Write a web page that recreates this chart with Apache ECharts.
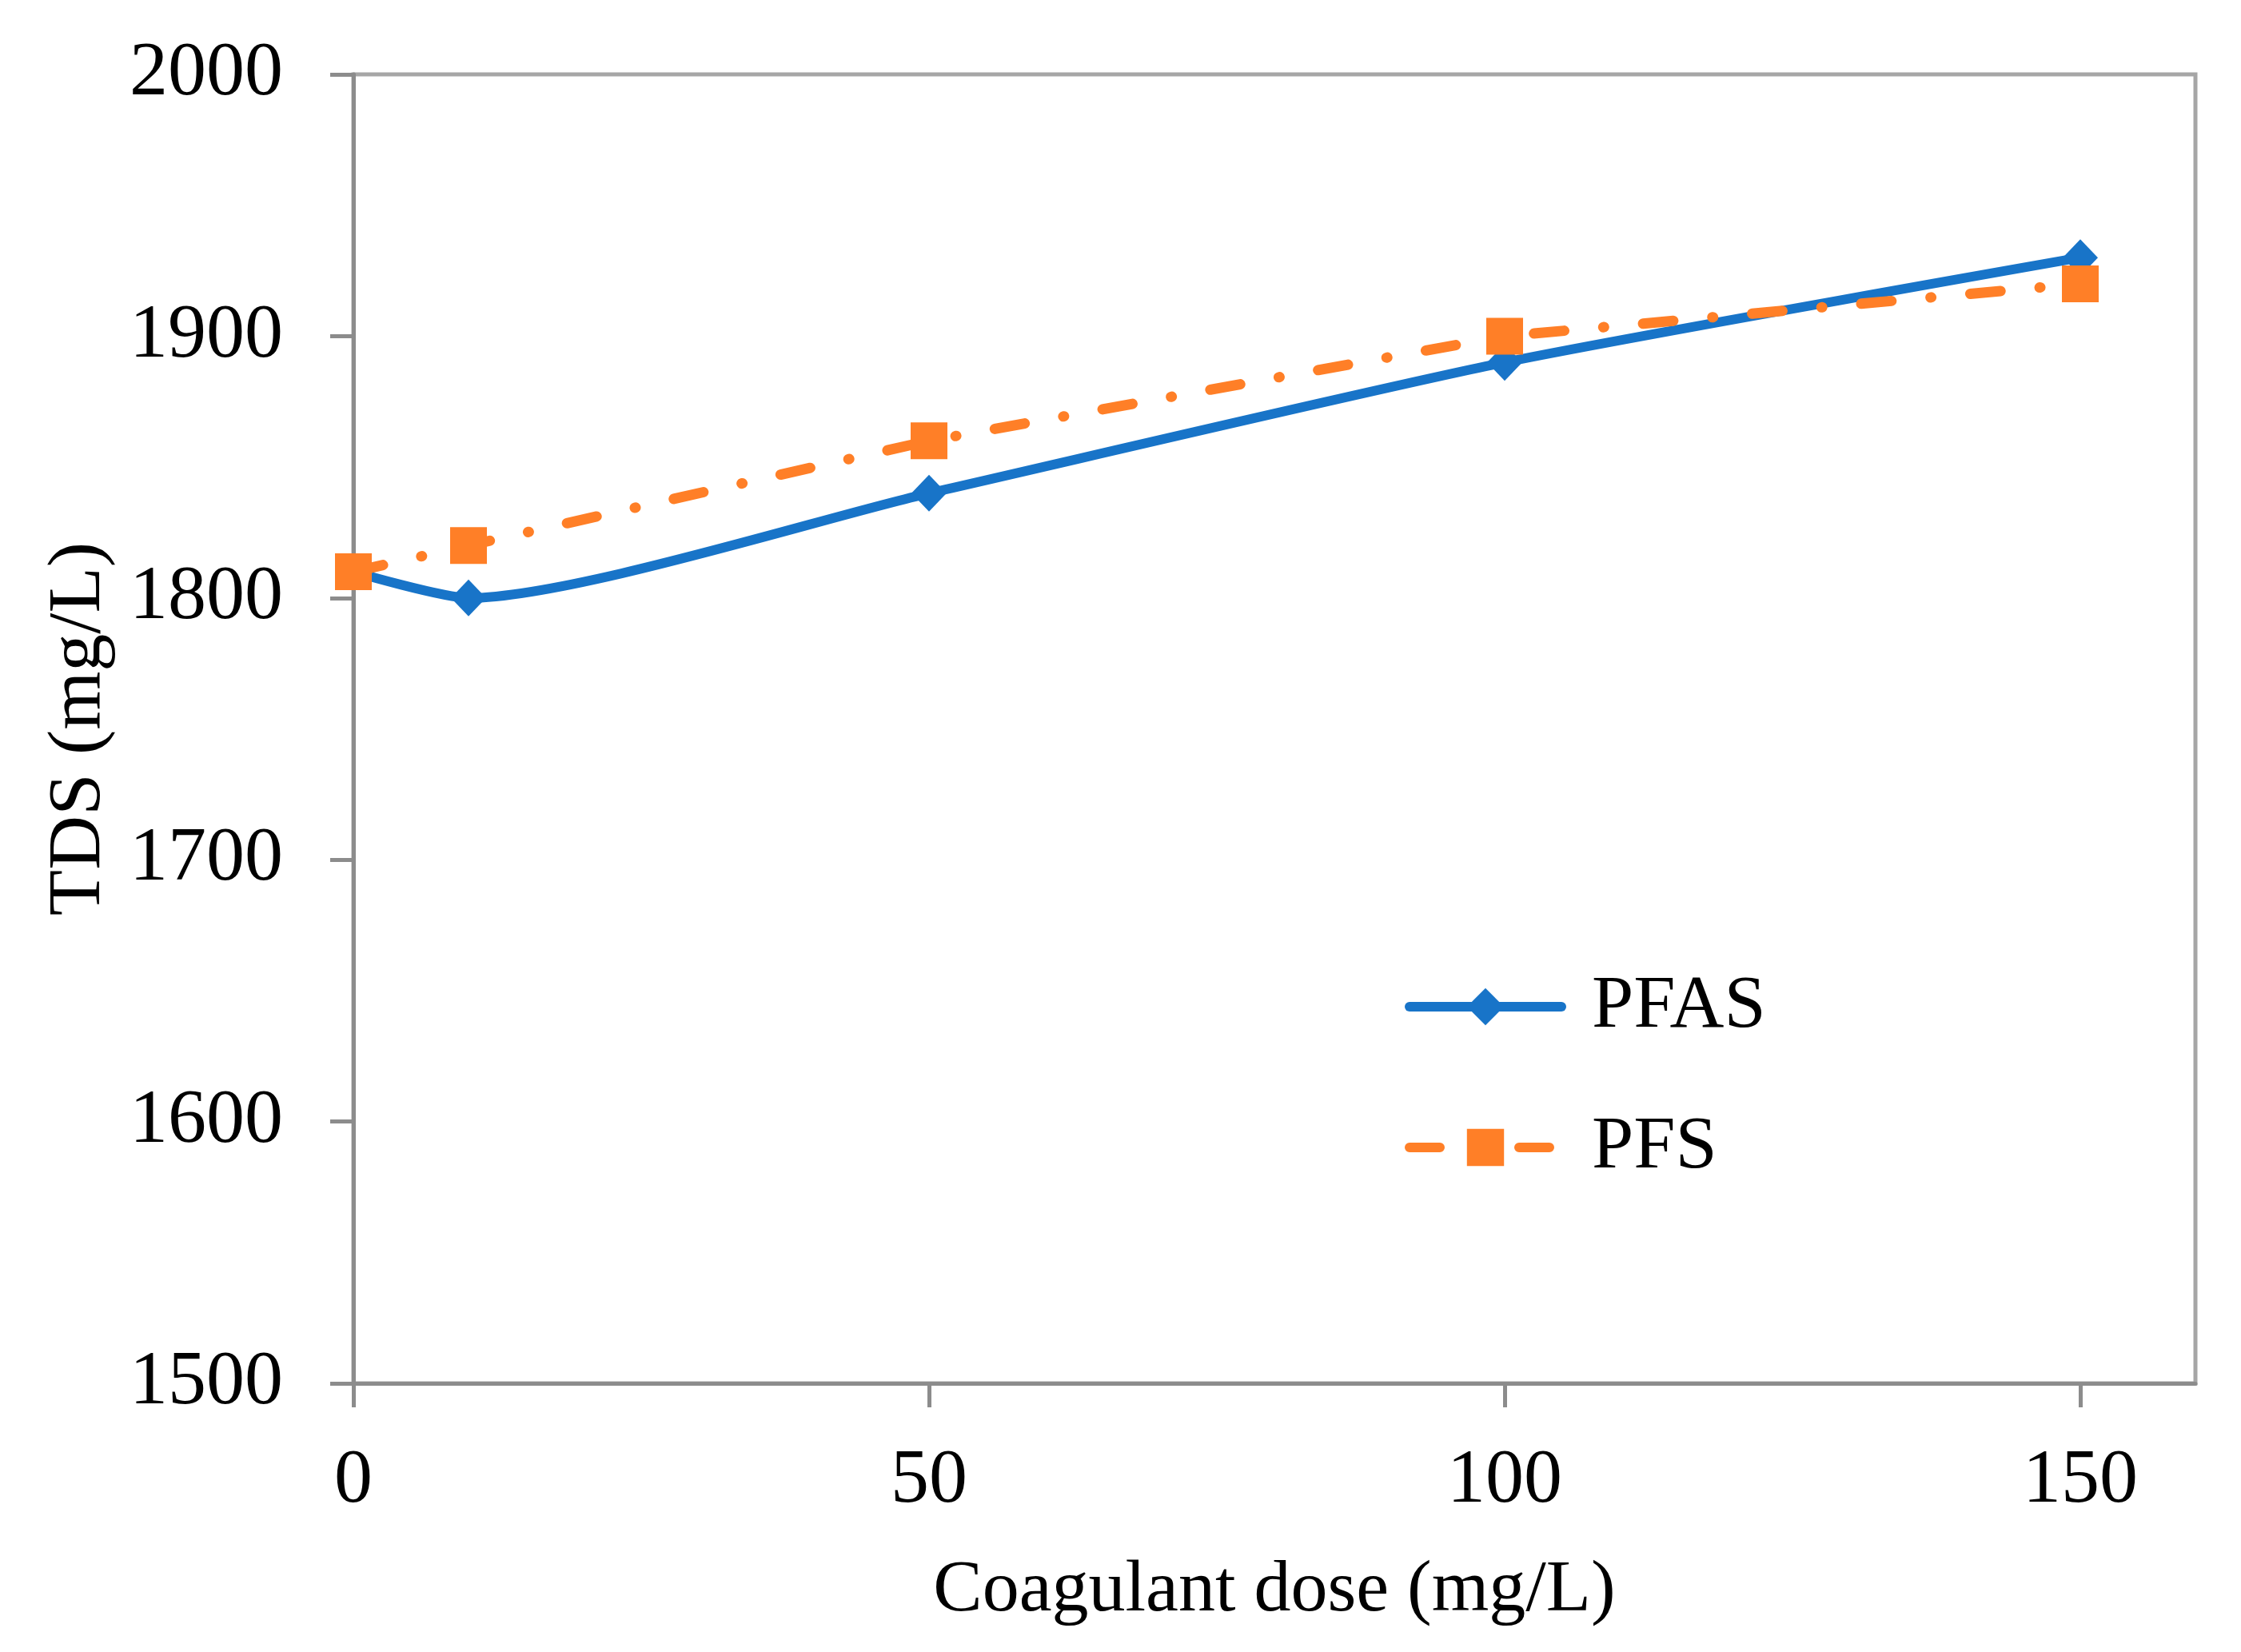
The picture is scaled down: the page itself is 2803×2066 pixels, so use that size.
<!DOCTYPE html>
<html>
<head>
<meta charset="utf-8">
<script src="https://cdn.jsdelivr.net/npm/echarts@6/dist/echarts.min.js"></script>
<style>html,body{margin:0;padding:0;background:#fff;}#c{width:2803px;height:2066px;}</style>
</head>
<body>
<div id="c"></div>
<script>
const doses = [0, 10, 50, 100, 150];
const pfas = [1810, 1800, 1840, 1890, 1930];
const pfs = [1810, 1820, 1860, 1900, 1920];
const xTicks = [0, 50, 100, 150];
const yTicks = [1500, 1600, 1700, 1800, 1900, 2000];

const FONT = "'Liberation Serif', 'Times New Roman', serif";
const chart = echarts.init(document.getElementById('c'), null, {renderer: 'canvas'});
chart.setOption({
  animation: false,
  backgroundColor: '#fff',
  grid: {left: 442, right: 57, top: 93, bottom: 336, show: true, borderColor: '#a6a6a6', borderWidth: 5, containLabel: false},
  xAxis: {
    type: 'value', min: 0, max: 160, interval: 50,
    name: 'Coagulant dose (mg/L)', nameLocation: 'middle', nameGap: 214,
    nameTextStyle: {fontFamily: FONT, fontSize: 92, color: '#000'},
    axisLine: {show: true, lineStyle: {color: '#8c8c8c', width: 5}},
    axisTick: {show: true, inside: false, length: 30, lineStyle: {color: '#8c8c8c', width: 5}, customValues: xTicks},
    axisLabel: {fontFamily: FONT, fontSize: 96, color: '#000', margin: 75, customValues: xTicks, formatter: v => String(v)},
    splitLine: {show: false}
  },
  yAxis: {
    type: 'value', min: 1500, max: 2000, interval: 100,
    name: 'TDS (mg/L)', nameLocation: 'middle', nameGap: 296,
    nameTextStyle: {fontFamily: FONT, fontSize: 94, color: '#000'},
    axisLine: {show: true, lineStyle: {color: '#8c8c8c', width: 5}},
    axisTick: {show: true, inside: false, length: 29, lineStyle: {color: '#8c8c8c', width: 5}, customValues: yTicks},
    axisLabel: {fontFamily: FONT, fontSize: 96, color: '#000', margin: 88, customValues: yTicks, formatter: v => String(v)},
    splitLine: {show: false}
  },
  legend: {
    orient: 'vertical', left: 1752, top: 1207,
    itemWidth: 190, itemHeight: 58, itemGap: 82,
    lineStyle: {width: 12},
    textStyle: {fontFamily: FONT, fontSize: 94, color: '#000', padding: [0, 0, 0, 33]},
    data: ['PFAS', 'PFS']
  },
  series: [
    {
      name: 'PFAS', type: 'line', data: doses.map((d, i) => [d, pfas[i]]),
      smooth: 0.22,
      symbol: 'diamond', symbolSize: [44, 46],
      itemStyle: {color: '#1874c8'},
      lineStyle: {color: '#1874c8', width: 12, cap: 'round', join: 'round'}
    },
    {
      name: 'PFS', type: 'line', data: doses.map((d, i) => [d, pfs[i]]),
      symbol: 'rect', symbolSize: 46,
      itemStyle: {color: '#ff7f27'},
      lineStyle: {color: '#ff7f27', width: 13, type: [38, 49, 1, 49], cap: 'round', join: 'round'}
    }
  ]
});
</script>
</body>
</html>
